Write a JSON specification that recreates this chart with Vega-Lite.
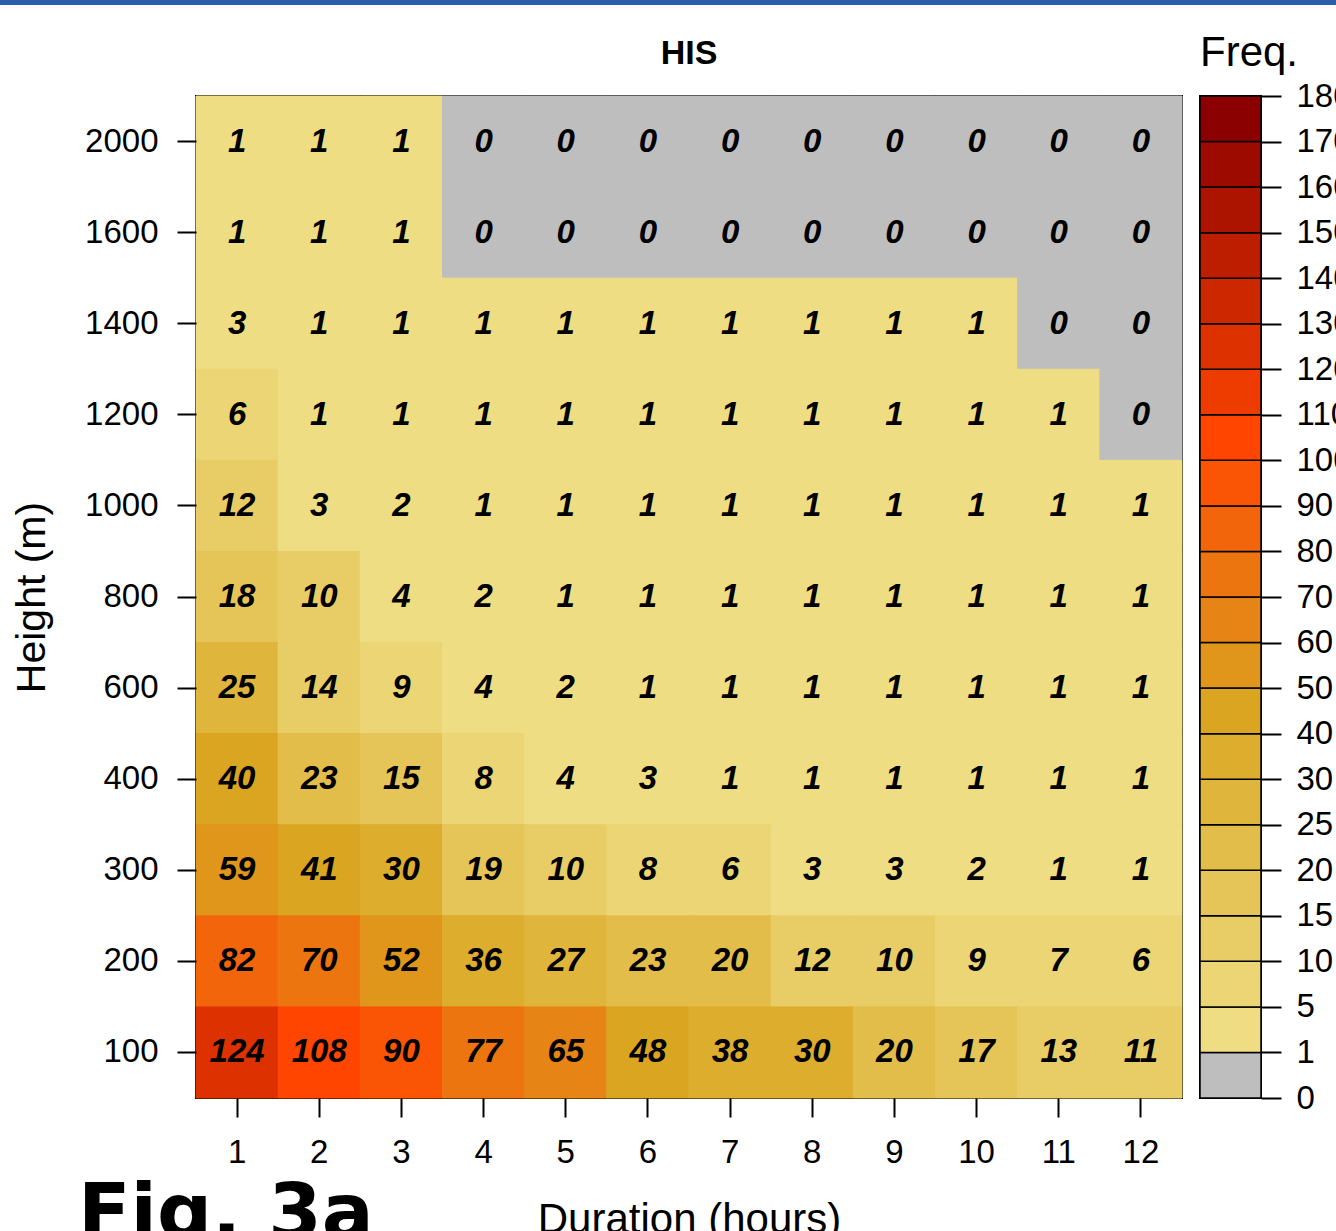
{
  "$schema": "https://vega.github.io/schema/vega-lite/v6.json",
  "padding": {"left": 0, "top": 0, "right": 0, "bottom": 0},
  "background": "white",
  "title": {"text": "Fig. 3a", "orient": "bottom", "anchor": "start", "frame": "bounds", "font": "DejaVu Sans", "fontWeight": "bold", "fontSize": 77, "baseline": "alphabetic", "offset": -3, "dx": 78, "color": "black"},
  "config": {
    "view": {"stroke": "black", "strokeWidth": 2},
    "axis": {
      "labelFont": "Liberation Sans", "labelFontSize": 33, "labelColor": "black",
      "tickColor": "black", "tickWidth": 2, "tickSize": 19, "labelPadding": 19,
      "titleFont": "Liberation Sans", "titleFontSize": 41, "titleFontWeight": "normal", "titleColor": "black",
      "grid": false, "domain": false
    }
  },
  "datasets": {
    "cells": [
      {"d": 1, "h": 2000, "v": 1}, {"d": 2, "h": 2000, "v": 1}, {"d": 3, "h": 2000, "v": 1}, {"d": 4, "h": 2000, "v": 0}, {"d": 5, "h": 2000, "v": 0}, {"d": 6, "h": 2000, "v": 0}, {"d": 7, "h": 2000, "v": 0}, {"d": 8, "h": 2000, "v": 0}, {"d": 9, "h": 2000, "v": 0}, {"d": 10, "h": 2000, "v": 0}, {"d": 11, "h": 2000, "v": 0}, {"d": 12, "h": 2000, "v": 0},
      {"d": 1, "h": 1600, "v": 1}, {"d": 2, "h": 1600, "v": 1}, {"d": 3, "h": 1600, "v": 1}, {"d": 4, "h": 1600, "v": 0}, {"d": 5, "h": 1600, "v": 0}, {"d": 6, "h": 1600, "v": 0}, {"d": 7, "h": 1600, "v": 0}, {"d": 8, "h": 1600, "v": 0}, {"d": 9, "h": 1600, "v": 0}, {"d": 10, "h": 1600, "v": 0}, {"d": 11, "h": 1600, "v": 0}, {"d": 12, "h": 1600, "v": 0},
      {"d": 1, "h": 1400, "v": 3}, {"d": 2, "h": 1400, "v": 1}, {"d": 3, "h": 1400, "v": 1}, {"d": 4, "h": 1400, "v": 1}, {"d": 5, "h": 1400, "v": 1}, {"d": 6, "h": 1400, "v": 1}, {"d": 7, "h": 1400, "v": 1}, {"d": 8, "h": 1400, "v": 1}, {"d": 9, "h": 1400, "v": 1}, {"d": 10, "h": 1400, "v": 1}, {"d": 11, "h": 1400, "v": 0}, {"d": 12, "h": 1400, "v": 0},
      {"d": 1, "h": 1200, "v": 6}, {"d": 2, "h": 1200, "v": 1}, {"d": 3, "h": 1200, "v": 1}, {"d": 4, "h": 1200, "v": 1}, {"d": 5, "h": 1200, "v": 1}, {"d": 6, "h": 1200, "v": 1}, {"d": 7, "h": 1200, "v": 1}, {"d": 8, "h": 1200, "v": 1}, {"d": 9, "h": 1200, "v": 1}, {"d": 10, "h": 1200, "v": 1}, {"d": 11, "h": 1200, "v": 1}, {"d": 12, "h": 1200, "v": 0},
      {"d": 1, "h": 1000, "v": 12}, {"d": 2, "h": 1000, "v": 3}, {"d": 3, "h": 1000, "v": 2}, {"d": 4, "h": 1000, "v": 1}, {"d": 5, "h": 1000, "v": 1}, {"d": 6, "h": 1000, "v": 1}, {"d": 7, "h": 1000, "v": 1}, {"d": 8, "h": 1000, "v": 1}, {"d": 9, "h": 1000, "v": 1}, {"d": 10, "h": 1000, "v": 1}, {"d": 11, "h": 1000, "v": 1}, {"d": 12, "h": 1000, "v": 1},
      {"d": 1, "h": 800, "v": 18}, {"d": 2, "h": 800, "v": 10}, {"d": 3, "h": 800, "v": 4}, {"d": 4, "h": 800, "v": 2}, {"d": 5, "h": 800, "v": 1}, {"d": 6, "h": 800, "v": 1}, {"d": 7, "h": 800, "v": 1}, {"d": 8, "h": 800, "v": 1}, {"d": 9, "h": 800, "v": 1}, {"d": 10, "h": 800, "v": 1}, {"d": 11, "h": 800, "v": 1}, {"d": 12, "h": 800, "v": 1},
      {"d": 1, "h": 600, "v": 25}, {"d": 2, "h": 600, "v": 14}, {"d": 3, "h": 600, "v": 9}, {"d": 4, "h": 600, "v": 4}, {"d": 5, "h": 600, "v": 2}, {"d": 6, "h": 600, "v": 1}, {"d": 7, "h": 600, "v": 1}, {"d": 8, "h": 600, "v": 1}, {"d": 9, "h": 600, "v": 1}, {"d": 10, "h": 600, "v": 1}, {"d": 11, "h": 600, "v": 1}, {"d": 12, "h": 600, "v": 1},
      {"d": 1, "h": 400, "v": 40}, {"d": 2, "h": 400, "v": 23}, {"d": 3, "h": 400, "v": 15}, {"d": 4, "h": 400, "v": 8}, {"d": 5, "h": 400, "v": 4}, {"d": 6, "h": 400, "v": 3}, {"d": 7, "h": 400, "v": 1}, {"d": 8, "h": 400, "v": 1}, {"d": 9, "h": 400, "v": 1}, {"d": 10, "h": 400, "v": 1}, {"d": 11, "h": 400, "v": 1}, {"d": 12, "h": 400, "v": 1},
      {"d": 1, "h": 300, "v": 59}, {"d": 2, "h": 300, "v": 41}, {"d": 3, "h": 300, "v": 30}, {"d": 4, "h": 300, "v": 19}, {"d": 5, "h": 300, "v": 10}, {"d": 6, "h": 300, "v": 8}, {"d": 7, "h": 300, "v": 6}, {"d": 8, "h": 300, "v": 3}, {"d": 9, "h": 300, "v": 3}, {"d": 10, "h": 300, "v": 2}, {"d": 11, "h": 300, "v": 1}, {"d": 12, "h": 300, "v": 1},
      {"d": 1, "h": 200, "v": 82}, {"d": 2, "h": 200, "v": 70}, {"d": 3, "h": 200, "v": 52}, {"d": 4, "h": 200, "v": 36}, {"d": 5, "h": 200, "v": 27}, {"d": 6, "h": 200, "v": 23}, {"d": 7, "h": 200, "v": 20}, {"d": 8, "h": 200, "v": 12}, {"d": 9, "h": 200, "v": 10}, {"d": 10, "h": 200, "v": 9}, {"d": 11, "h": 200, "v": 7}, {"d": 12, "h": 200, "v": 6},
      {"d": 1, "h": 100, "v": 124}, {"d": 2, "h": 100, "v": 108}, {"d": 3, "h": 100, "v": 90}, {"d": 4, "h": 100, "v": 77}, {"d": 5, "h": 100, "v": 65}, {"d": 6, "h": 100, "v": 48}, {"d": 7, "h": 100, "v": 38}, {"d": 8, "h": 100, "v": 30}, {"d": 9, "h": 100, "v": 20}, {"d": 10, "h": 100, "v": 17}, {"d": 11, "h": 100, "v": 13}, {"d": 12, "h": 100, "v": 11}
    ],
    "bins": [
      {"i": 0, "i2": 1, "lo": 0}, {"i": 1, "i2": 2, "lo": 1}, {"i": 2, "i2": 3, "lo": 5}, {"i": 3, "i2": 4, "lo": 10},
      {"i": 4, "i2": 5, "lo": 15}, {"i": 5, "i2": 6, "lo": 20}, {"i": 6, "i2": 7, "lo": 25}, {"i": 7, "i2": 8, "lo": 30},
      {"i": 8, "i2": 9, "lo": 40}, {"i": 9, "i2": 10, "lo": 50}, {"i": 10, "i2": 11, "lo": 60}, {"i": 11, "i2": 12, "lo": 70},
      {"i": 12, "i2": 13, "lo": 80}, {"i": 13, "i2": 14, "lo": 90}, {"i": 14, "i2": 15, "lo": 100}, {"i": 15, "i2": 16, "lo": 110},
      {"i": 16, "i2": 17, "lo": 120}, {"i": 17, "i2": 18, "lo": 130}, {"i": 18, "i2": 19, "lo": 140}, {"i": 19, "i2": 20, "lo": 150},
      {"i": 20, "i2": 21, "lo": 160}, {"i": 21, "i2": 22, "lo": 170}
    ]
  },
  "align": "none",
  "spacing": 26,
  "vconcat": [
    {
      "width": 1336, "height": 5,
      "view": {"stroke": null, "fill": "#2a5daa"},
      "data": {"values": [{"k": 1}]},
      "mark": {"type": "rect", "color": "#2a5daa"},
      "encoding": {}
    },
    {
      "spacing": 0,
      "hconcat": [
        {
          "width": 1, "height": 1,
          "view": {"stroke": null},
          "data": {"values": []},
          "mark": {"type": "rect"},
          "encoding": {}
        },
        {
          "spacing": 14,
          "hconcat": [
            {
              "width": 986, "height": 1002,
              "title": {"text": "HIS", "font": "Liberation Sans", "fontWeight": "bold", "fontSize": 34, "baseline": "alphabetic", "offset": -2, "anchor": "middle", "frame": "group", "color": "black"},
              "data": {"name": "cells"},
              "encoding": {
                "x": {"field": "d", "type": "ordinal", "scale": {"paddingInner": 0, "paddingOuter": 0},
                      "axis": {"labelAngle": 0, "titlePadding": 30, "titleFontSize": 42, "title": "Duration (hours)"}},
                "y": {"field": "h", "type": "ordinal", "sort": "descending", "scale": {"paddingInner": 0, "paddingOuter": 0},
                      "axis": {"title": ["", "Height (m)"], "titleLineHeight": 9, "titlePadding": 31}}
              },
              "layer": [
                {
                  "mark": {"type": "rect", "strokeWidth": 1},
                  "encoding": {
                    "color": {"field": "v", "type": "quantitative", "legend": null,
                      "scale": {"type": "threshold",
                        "domain": [1, 5, 10, 15, 20, 25, 30, 40, 50, 60, 70, 80, 90, 100, 110, 120, 130, 140, 150, 160, 170],
                        "range": ["#bebebe", "#eedd82", "#ebd574", "#e8cd66", "#e5c558", "#e3bd4a", "#e0b53c", "#ddad2e", "#daa520", "#e0951b", "#e68515", "#ec7510", "#f3650b", "#f95505", "#ff4500", "#ee3b00", "#de3100", "#cd2700", "#bd1e00", "#ac1400", "#9c0a00", "#8b0000"]}},
                    "stroke": {"field": "v", "type": "quantitative", "legend": null,
                      "scale": {"type": "threshold",
                        "domain": [1, 5, 10, 15, 20, 25, 30, 40, 50, 60, 70, 80, 90, 100, 110, 120, 130, 140, 150, 160, 170],
                        "range": ["#bebebe", "#eedd82", "#ebd574", "#e8cd66", "#e5c558", "#e3bd4a", "#e0b53c", "#ddad2e", "#daa520", "#e0951b", "#e68515", "#ec7510", "#f3650b", "#f95505", "#ff4500", "#ee3b00", "#de3100", "#cd2700", "#bd1e00", "#ac1400", "#9c0a00", "#8b0000"]}}
                  }
                },
                {
                  "mark": {"type": "text", "font": "Liberation Sans", "fontSize": 33, "fontWeight": "bold", "fontStyle": "italic", "color": "black", "baseline": "middle"},
                  "encoding": {"text": {"field": "v", "type": "quantitative"}}
                }
              ]
            },
            {
              "width": 61, "height": 1002,
              "title": {"text": "Freq.", "font": "Liberation Sans", "fontWeight": "normal", "fontSize": 42, "baseline": "alphabetic", "offset": -28, "anchor": "start", "frame": "group", "color": "black"},
              "data": {"name": "bins"},
              "mark": {"type": "rect", "stroke": "black", "strokeWidth": 1.5},
              "encoding": {
                "y": {"field": "i", "type": "quantitative", "scale": {"domain": [0, 22], "nice": false, "zero": false},
                      "axis": {"orient": "right", "title": null, "values": [0, 1, 2, 3, 4, 5, 6, 7, 8, 9, 10, 11, 12, 13, 14, 15, 16, 17, 18, 19, 20, 21, 22],
                               "tickSize": 20, "labelPadding": 15,
                               "labelExpr": "['0','1','5','10','15','20','25','30','40','50','60','70','80','90','100','110','120','130','140','150','160','170','180'][datum.value]"}},
                "y2": {"field": "i2"},
                "color": {"field": "lo", "type": "quantitative", "legend": null,
                  "scale": {"type": "threshold",
                    "domain": [1, 5, 10, 15, 20, 25, 30, 40, 50, 60, 70, 80, 90, 100, 110, 120, 130, 140, 150, 160, 170],
                    "range": ["#bebebe", "#eedd82", "#ebd574", "#e8cd66", "#e5c558", "#e3bd4a", "#e0b53c", "#ddad2e", "#daa520", "#e0951b", "#e68515", "#ec7510", "#f3650b", "#f95505", "#ff4500", "#ee3b00", "#de3100", "#cd2700", "#bd1e00", "#ac1400", "#9c0a00", "#8b0000"]}}
              }
            }
          ]
        }
      ]
    }
  ]
}
